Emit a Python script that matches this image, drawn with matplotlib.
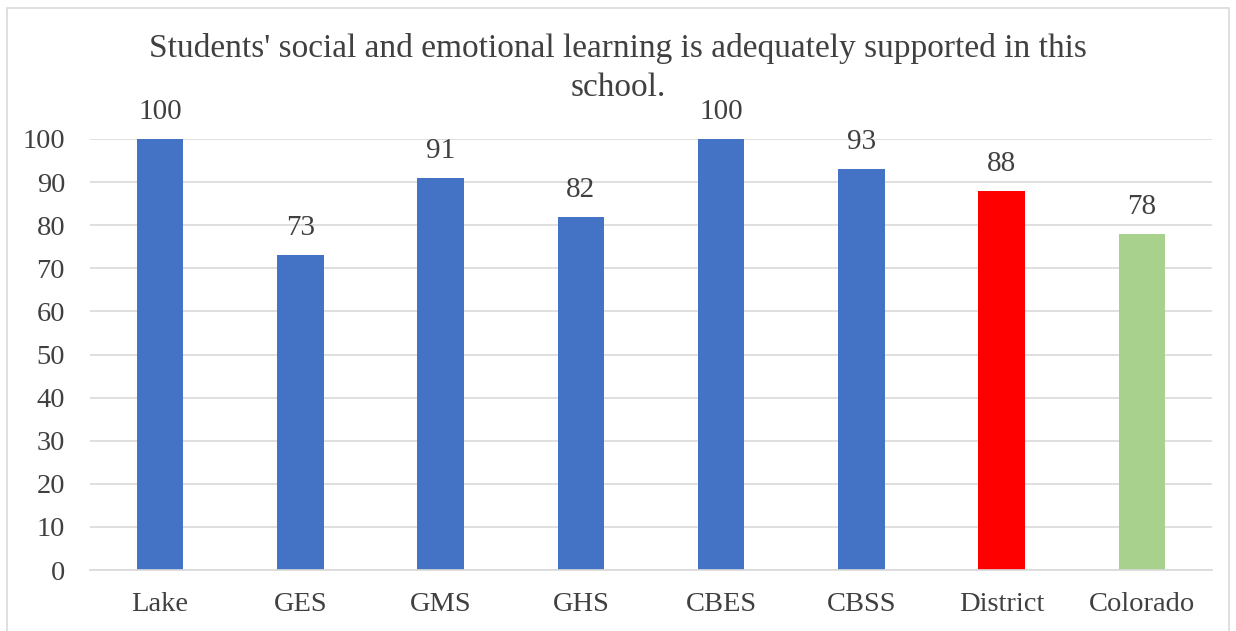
import matplotlib
matplotlib.use("Agg")
import matplotlib.pyplot as plt
from matplotlib.patches import Rectangle

categories = ["Lake", "GES", "GMS", "GHS", "CBES", "CBSS", "District", "Colorado"]
values = [100, 73, 91, 82, 100, 93, 88, 78]
colors = ["#4472C4"] * 6 + ["#FF0000", "#A9D18E"]
yticks = list(range(0, 101, 10))
title_lines = ["Students' social and emotional learning is adequately supported in this", "school."]

plt.rcParams['font.family'] = ['Liberation Serif', 'DejaVu Serif']

fig = plt.figure(figsize=(12.36, 6.31), dpi=100)
W, H = 1236, 631
left, right, top, bottom = 90, 1212, 139, 570
ax = fig.add_axes([left / W, 1 - bottom / H, (right - left) / W, (bottom - top) / H])

x = list(range(len(categories)))
ax.bar(x, values, width=0.33, color=colors, zorder=3)
for xi, v in zip(x, values):
    ax.annotate(str(v), (xi, v), xytext=(0, 10), textcoords="offset points",
                ha="center", va="bottom", fontsize=21, color="#404040", annotation_clip=False)

ax.set_xlim(-0.5, len(categories) - 0.5)
ax.set_ylim(0, 100)
ax.set_yticks(yticks)
ax.set_xticks(x)
ax.set_xticklabels(categories)
ax.tick_params(axis="both", length=0, labelsize=20.5, colors="#404040")
ax.tick_params(axis="x", pad=16)
ax.tick_params(axis="y", pad=18)
ax.grid(axis="y", color="#D9D9D9", linewidth=1.2, zorder=0)
for s in ["top", "right", "left"]:
    ax.spines[s].set_visible(False)
ax.spines["bottom"].set_color("#D9D9D9")
ax.spines["bottom"].set_linewidth(1.2)
ax.spines["bottom"].set_zorder(4)

for line, yc in zip(title_lines, [48, 88]):
    fig.text(0.5, 1 - yc / H, line, ha="center", va="center", fontsize=24, color="#404040")

fig.patches.append(Rectangle((7 / W, -0.05), (1229 - 7) / W, (H - 8) / H + 0.05, transform=fig.transFigure,
                             fill=False, edgecolor="#D9D9D9", linewidth=1.2))

fig.savefig("out.png", dpi=100)
